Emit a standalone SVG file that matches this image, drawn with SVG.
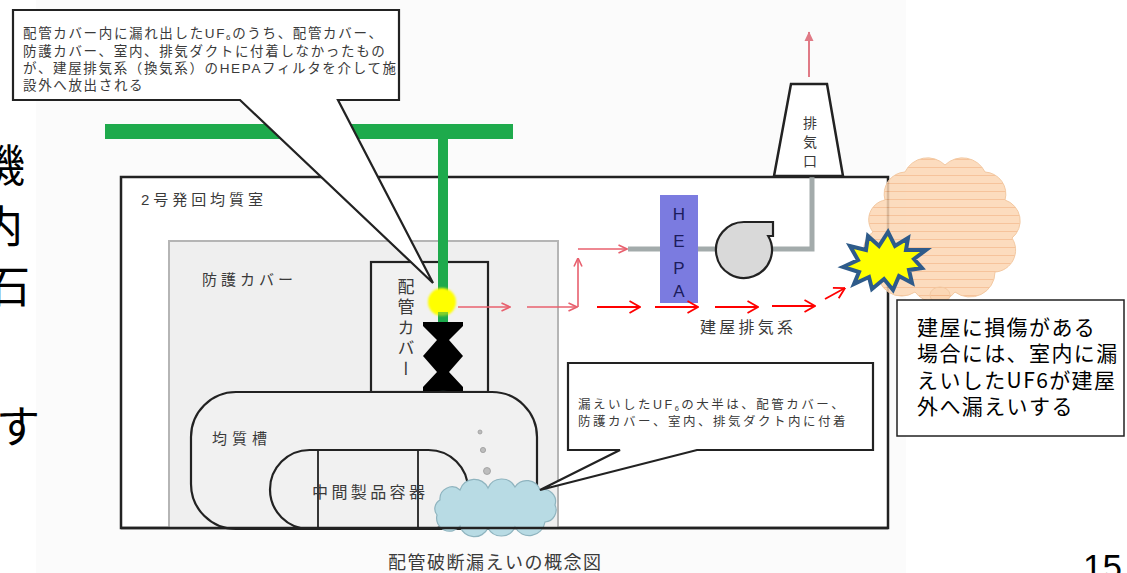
<svg xmlns="http://www.w3.org/2000/svg" width="1127" height="573" viewBox="0 0 1127 573">
  <defs>
    <style>
      .jp { font-family: 'Liberation Sans', 'Noto Sans CJK JP', sans-serif; fill: #3a3a3a; }
      .jpb { font-family: 'Noto Sans CJK JP', sans-serif; fill: #000; }
      .duct { fill: none; stroke: #a3abab; stroke-width: 5; }
      .flowA { fill: none; stroke: #e8606e; stroke-width: 1.6; marker-end: url(#headA); }
      .flowB { fill: none; stroke: #ff0000; stroke-width: 1.8; marker-end: url(#headB); }
      .vert { writing-mode: vertical-rl; }
    </style>
    <marker id="headA" viewBox="0 0 10 10" refX="9.5" refY="5" markerWidth="10" markerHeight="10" markerUnits="userSpaceOnUse" orient="auto">
      <path d="M1,1 L9.5,5 L1,9" fill="none" stroke="#e8606e" stroke-width="1.6"/>
    </marker>
    <marker id="headB" viewBox="0 0 12 14" refX="11.5" refY="7" markerWidth="12" markerHeight="14" markerUnits="userSpaceOnUse" orient="auto">
      <path d="M1,1 L11.5,7 L1,13" fill="none" stroke="#ff0000" stroke-width="1.8"/>
    </marker>
    <marker id="headUp" viewBox="0 0 10 10" refX="9" refY="5" markerWidth="10" markerHeight="10" markerUnits="userSpaceOnUse" orient="auto">
      <path d="M0,0.5 L9.5,5 L0,9.5 Z" fill="#e07a86"/>
    </marker>
    <pattern id="stripes" width="10" height="8" patternUnits="userSpaceOnUse">
      <rect width="10" height="8" fill="#fbd6b3"/>
      <line x1="0" y1="7.5" x2="10" y2="7.5" stroke="#f4b98a" stroke-width="1"/>
    </pattern>
    <filter id="soft" x="-30%" y="-30%" width="160%" height="160%">
      <feGaussianBlur stdDeviation="1.2"/>
    </filter>
  </defs>

  <rect width="1127" height="573" fill="#ffffff"/>
  <rect x="36" y="0" width="870" height="573" fill="#fbfbfb"/>

  <!-- slide text running off the left edge -->
  <g id="side-text" class="jpb" font-size="44">
    <text x="-19" y="182">機</text>
    <text x="-21" y="243">内</text>
    <text x="-14" y="303">石</text>
    <text x="-4" y="443">す</text>
  </g>

  <!-- main header pipe (horizontal run) -->
  <g id="header-pipe">
    <rect x="105" y="124" width="408" height="15" fill="#1eaa4c"/>
  </g>

  <!-- building room -->
  <g id="room">
    <rect x="121" y="177" width="767" height="351" fill="#ffffff" stroke="#222" stroke-width="2.5"/>
    <text class="jp" x="141" y="205" font-size="15" textLength="122" lengthAdjust="spacing">2号発回均質室</text>
  </g>

  <!-- protection cover -->
  <g id="protection-cover">
    <rect x="169" y="241" width="389" height="287" fill="#efefef" stroke="#b5b5b5" stroke-width="2"/>
    <text class="jp" x="202" y="285" font-size="15" textLength="91" lengthAdjust="spacing">防護カバー</text>
  </g>

  <!-- pipe cover -->
  <g id="pipe-cover">
    <rect x="371" y="262" width="117" height="130" fill="#f1f1f1" stroke="#222" stroke-width="2.2"/>
    <text class="jp vert" x="404" y="278" font-size="17" letter-spacing="3.5">配管カバー</text>
  </g>

  <!-- branch pipe down into the pipe cover -->
  <g id="branch-pipe">
    <rect x="438" y="139" width="10" height="184" fill="#1eaa4c"/>
  </g>

  <!-- valve -->
  <g id="valve">
    <polygon points="423,322 463,322 463,326 449,340 463,356 449,372 463,387 463,392 423,392 423,387 437,372 423,356 437,340 423,326" fill="#000"/>
    <ellipse cx="443" cy="395" rx="5" ry="3" fill="#9ff0dc" filter="url(#soft)"/>
  </g>

  <!-- leak point -->
  <g id="leak-point">
    <circle cx="442" cy="302" r="14" fill="#ffff00" filter="url(#soft)"/>
    <circle cx="442" cy="302" r="11.5" fill="#ffff00"/>
    <rect x="438" y="312" width="10" height="10" fill="#1eaa4c" opacity="0.55"/>
  </g>

  <!-- homogenisation tank -->
  <g id="tank">
    <rect x="191" y="392" width="346" height="137" rx="45" ry="45" fill="#f1f1f1" stroke="#222" stroke-width="2.2"/>
    <text class="jp" x="212" y="444" font-size="15" textLength="55" lengthAdjust="spacing">均質槽</text>
  </g>

  <!-- intermediate product container -->
  <g id="container">
    <rect x="270" y="450" width="198" height="79" rx="39.5" ry="39.5" fill="#f1f1f1" stroke="#222" stroke-width="2.2"/>
    <line x1="318" y1="450" x2="318" y2="529" stroke="#222" stroke-width="1.8"/>
    <line x1="418" y1="450" x2="418" y2="529" stroke="#222" stroke-width="1.8"/>
    <text class="jp" x="312" y="498" font-size="16" textLength="113" lengthAdjust="spacing">中間製品容器</text>
  </g>

  <!-- rising bubbles and deposit -->
  <g id="deposit">
    <circle cx="480" cy="432" r="2" fill="#bdbdbd" stroke="#9a9a9a" stroke-width="0.8"/>
    <circle cx="483" cy="450" r="2.6" fill="#bdbdbd" stroke="#9a9a9a" stroke-width="0.8"/>
    <circle cx="487" cy="471" r="3.5" fill="#bdbdbd" stroke="#9a9a9a" stroke-width="0.8"/>
    <path d="M 440,500 A 12,12 0 0 1 460,490 A 15,15 0 0 1 488,488 A 15,15 0 0 1 515,487 A 14,14 0 0 1 540,490 A 12,12 0 0 1 555,505 A 12,12 0 0 1 545,522 A 16,16 0 0 1 515,527 A 15,15 0 0 1 488,528 A 15,15 0 0 1 460,526 A 13,13 0 0 1 437,515 A 10,10 0 0 1 440,500 Z" fill="#b8dbe4" stroke="#8fb4bf" stroke-width="1.2"/>
  </g>

  <!-- room bottom edge drawn over the tank -->
  <line x1="121" y1="528" x2="888" y2="528" stroke="#222" stroke-width="2.5"/>

  <!-- exhaust duct -->
  <g id="duct">
    <polyline class="duct" points="628,249 660,249"/>
    <polyline class="duct" points="698,249 716,249"/>
    <polyline class="duct" points="772,249 812,249 812,176"/>
  </g>

  <!-- HEPA filter -->
  <g id="hepa">
    <rect x="660" y="195" width="38" height="108" fill="#7b7be0"/>
    <g font-family="'Liberation Sans', sans-serif" font-size="17" fill="#1c1c5c" text-anchor="middle">
      <text x="679" y="220">H</text>
      <text x="679" y="247">E</text>
      <text x="679" y="274">P</text>
      <text x="679" y="297">A</text>
    </g>
  </g>

  <!-- exhaust fan -->
  <g id="fan">
    <path d="M 744,222 L 773,222 L 773,236 L 768.2,236 A 28,28 0 1 1 744,222 Z" fill="#d9d9d9" stroke="#222" stroke-width="2.2"/>
  </g>

  <text class="jp" x="700" y="333" font-size="16" textLength="93" lengthAdjust="spacing">建屋排気系</text>

  <!-- exhaust stack -->
  <g id="stack">
    <polygon points="791,84 827,84 843,176 774,176" fill="#ffffff" stroke="#222" stroke-width="2.5"/>
    <text class="jp vert" x="809" y="116" font-size="14" letter-spacing="5">排気口</text>
  </g>

  <!-- flow arrows -->
  <g id="connectors">
    <line class="flowA" x1="458" y1="307" x2="510" y2="307"/>
    <line class="flowA" x1="527" y1="307" x2="577" y2="307"/>
    <line class="flowA" x1="578" y1="307" x2="578" y2="258"/>
    <line class="flowA" x1="578" y1="249" x2="627" y2="249"/>
    <line class="flowB" x1="597" y1="307" x2="640" y2="307"/>
    <line class="flowB" x1="655" y1="307" x2="698" y2="307"/>
    <line class="flowB" x1="715" y1="307" x2="758" y2="307"/>
    <line class="flowB" x1="772" y1="306" x2="815" y2="306"/>
    <line class="flowB" x1="825" y1="299" x2="845" y2="288"/>
    <line x1="809" y1="77" x2="809" y2="32" stroke="#e07a86" stroke-width="2" marker-end="url(#headUp)"/>
  </g>

  <!-- released plume outside the building -->
  <g id="plume">
    <path d="M 885,200 A 22,22 0 0 1 905,172 A 25,25 0 0 1 945,165 A 25,25 0 0 1 985,172 A 22,22 0 0 1 1005,200 A 22,22 0 0 1 1012,238 A 22,22 0 0 1 995,272 A 25,25 0 0 1 955,292 A 25,25 0 0 1 915,292 A 24,24 0 0 1 878,268 A 20,20 0 0 1 873,232 A 20,20 0 0 1 885,200 Z" fill="url(#stripes)" fill-opacity="0.85" stroke="#f3c9a2" stroke-width="1"/>
    <ellipse cx="940" cy="295" rx="10" ry="8" fill="url(#stripes)" fill-opacity="0.85" stroke="#f3c9a2" stroke-width="1"/>
  </g>

  <!-- breach in the building wall -->
  <g id="breach">
    <polygon points="843,267 858,260 850,246 866,250 868,236 879,246 888,232 895,246 908,238 906,250 926,250 914,259 922,268 909,270 912,283 899,276 893,290 884,279 872,289 869,277 854,284 859,272" fill="#ffff00" stroke="#2e5b8a" stroke-width="4" stroke-linejoin="miter"/>
  </g>

  <!-- callout: release through HEPA -->
  <g id="callout-top">
    <path d="M 13,10 L 399,10 L 399,100 L 338,100 L 433,283 L 240,100 L 13,100 Z" fill="#ffffff" stroke="#222" stroke-width="2.2" stroke-linejoin="miter"/>
    <g class="jp" font-size="13.5" letter-spacing="1.65">
      <text x="23" y="38">配管カバー内に漏れ出したUF<tspan font-size="8" dy="2">6</tspan><tspan dy="-2">のうち、配管カバー、</tspan></text>
      <text x="23" y="56">防護カバー、室内、排気ダクトに付着しなかったもの</text>
      <text x="23" y="73">が、建屋排気系（換気系）のHEPAフィルタを介して施</text>
      <text x="23" y="90">設外へ放出される</text>
    </g>
  </g>

  <!-- callout: deposition inside -->
  <g id="callout-bottom">
    <path d="M 568,363 L 873,363 L 873,450 L 697,450 L 540,490 L 620,450 L 568,450 Z" fill="#ffffff" stroke="#222" stroke-width="2.2"/>
    <g class="jp" font-size="12.5" letter-spacing="2.5">
      <text x="578" y="409">漏えいしたUF<tspan font-size="7.5" dy="2">6</tspan><tspan dy="-2">の大半は、配管カバー、</tspan></text>
      <text x="578" y="426">防護カバー、室内、排気ダクト内に付着</text>
    </g>
  </g>

  <!-- note: building damage -->
  <g id="note-damage">
    <rect x="897" y="300" width="227" height="136" fill="#ffffff" stroke="#222" stroke-width="1.5"/>
    <g class="jpb" font-size="21" letter-spacing="1.4">
      <text x="917" y="335">建屋に損傷がある</text>
      <text x="917" y="361">場合には、室内に漏</text>
      <text x="917" y="388">えいしたUF6が建屋</text>
      <text x="917" y="414">外へ漏えいする</text>
    </g>
  </g>

  <text class="jp" x="388" y="569" font-size="18" textLength="213" lengthAdjust="spacing">配管破断漏えいの概念図</text>
  <text x="1083" y="579" font-family="'Liberation Sans', sans-serif" font-size="35" fill="#000">15</text>
</svg>
